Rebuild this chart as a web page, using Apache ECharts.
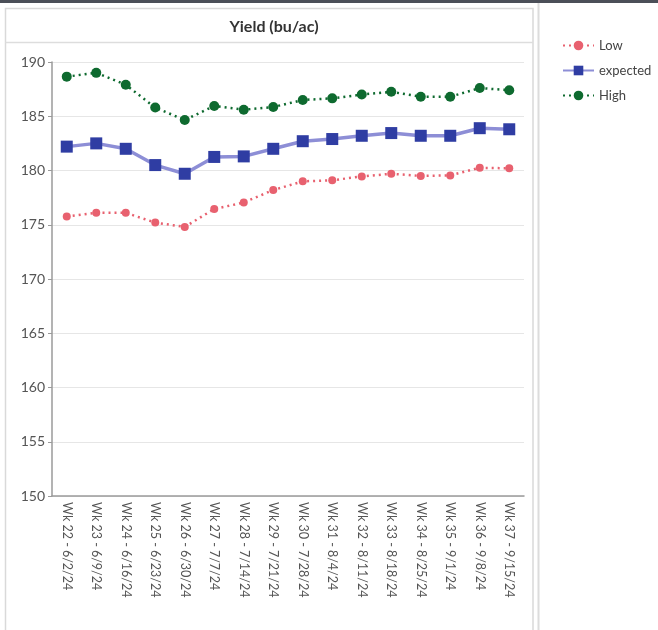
<!DOCTYPE html>
<html>
<head>
<meta charset="utf-8">
<script src="https://cdn.jsdelivr.net/npm/echarts@6/dist/echarts.min.js"></script>
<style>
  html, body { margin: 0; padding: 0; background: #ffffff; }
  #chart { width: 658px; height: 630px; }
</style>
</head>
<body>
<div id="chart"></div>
<script>
// Weekly yield forecast, bu/ac
const weeks = [
  'Wk 22 - 6/2/24', 'Wk 23 - 6/9/24', 'Wk 24 - 6/16/24', 'Wk 25 - 6/23/24',
  'Wk 26 - 6/30/24', 'Wk 27 - 7/7/24', 'Wk 28 - 7/14/24', 'Wk 29 - 7/21/24',
  'Wk 30 - 7/28/24', 'Wk 31 - 8/4/24', 'Wk 32 - 8/11/24', 'Wk 33 - 8/18/24',
  'Wk 34 - 8/25/24', 'Wk 35 - 9/1/24', 'Wk 36 - 9/8/24', 'Wk 37 - 9/15/24'
];
const lowYield = [175.75, 176.1, 176.1, 175.2, 174.8, 176.45, 177.05, 178.2,
                  179.0, 179.1, 179.45, 179.7, 179.5, 179.55, 180.25, 180.2];
const expectedYield = [182.2, 182.5, 182.0, 180.5, 179.7, 181.25, 181.3, 182.0,
                       182.7, 182.9, 183.2, 183.45, 183.2, 183.2, 183.9, 183.8];
const highYield = [188.65, 189.0, 187.9, 185.8, 184.65, 185.95, 185.6, 185.85,
                   186.5, 186.65, 187.0, 187.25, 186.8, 186.8, 187.6, 187.4];
const yTicks = { min: 150, max: 190, step: 5 };

const FONT = 'Lato, "Noto Sans", sans-serif';
const chart = echarts.init(document.getElementById('chart'), null, { renderer: 'canvas' });

chart.setOption({
  animation: false,
  backgroundColor: '#ffffff',
  textStyle: { fontFamily: FONT },
  title: {
    text: 'Yield (bu/ac)',
    left: 269,
    top: 14,
    textAlign: 'center',
    textStyle: { fontFamily: FONT, fontSize: 16, fontWeight: 'bold', color: '#333333' }
  },
  graphic: [
    // dark strip along the top edge
    { type: 'rect', shape: { x: 0, y: 0, width: 658, height: 3 }, style: { fill: '#4b4f58' }, silent: true },
    // panel frame
    { type: 'rect', shape: { x: 5.5, y: 8.5, width: 527.5, height: 640 },
      style: { fill: 'none', stroke: '#d9d9d9', lineWidth: 1.5 }, silent: true },
    // title separator
    { type: 'line', shape: { x1: 5.5, y1: 42.5, x2: 533, y2: 42.5 },
      style: { stroke: '#dddddd', lineWidth: 1.5 }, silent: true },
    // outer right rule
    { type: 'line', shape: { x1: 538.5, y1: 3, x2: 538.5, y2: 630 },
      style: { stroke: '#dcdcdc', lineWidth: 2 }, silent: true }
  ],
  legend: {
    orient: 'vertical',
    left: 557,
    top: 34,
    itemWidth: 31,
    itemHeight: 12,
    itemGap: 12,
    textStyle: { fontFamily: FONT, fontSize: 13, color: '#444444' },
    data: ['Low', 'expected', 'High']
  },
  grid: { left: 52, right: 134, top: 62, bottom: 134, containLabel: false },
  xAxis: {
    type: 'category',
    data: weeks,
    boundaryGap: true,
    axisLine: { lineStyle: { color: '#9a9a9a', width: 1.5 } },
    axisTick: { alignWithLabel: true, length: 4, lineStyle: { color: '#9a9a9a' } },
    axisLabel: {
      rotate: -90,
      interval: 0,
      margin: 6,
      fontFamily: FONT,
      fontSize: 12.5,
      color: '#555555'
    },
    splitLine: { show: false }
  },
  yAxis: {
    type: 'value',
    min: yTicks.min,
    max: yTicks.max,
    interval: yTicks.step,
    axisLine: { show: true, lineStyle: { color: '#9a9a9a', width: 1.5 } },
    axisTick: { show: true, length: 4, lineStyle: { color: '#9a9a9a' } },
    axisLabel: { fontFamily: FONT, fontSize: 14, color: '#555555', margin: 7 },
    splitLine: { lineStyle: { color: '#e6e6e6', width: 1 } }
  },
  series: [
    {
      name: 'Low',
      type: 'line',
      data: lowYield,
      symbol: 'circle',
      symbolSize: 8,
      itemStyle: { color: '#e8616f' },
      lineStyle: { color: '#e8616f', width: 2.5, type: [2, 4] },
      z: 3
    },
    {
      name: 'expected',
      type: 'line',
      data: expectedYield,
      symbol: 'rect',
      symbolSize: 12,
      itemStyle: { color: '#2f3da3' },
      lineStyle: { color: '#8d8ed6', width: 3.5 },
      z: 4
    },
    {
      name: 'High',
      type: 'line',
      data: highYield,
      symbol: 'circle',
      symbolSize: 10,
      itemStyle: { color: '#0e6a2f' },
      lineStyle: { color: '#0e6a2f', width: 2.5, type: [2, 4] },
      z: 3
    }
  ]
});
</script>
</body>
</html>
